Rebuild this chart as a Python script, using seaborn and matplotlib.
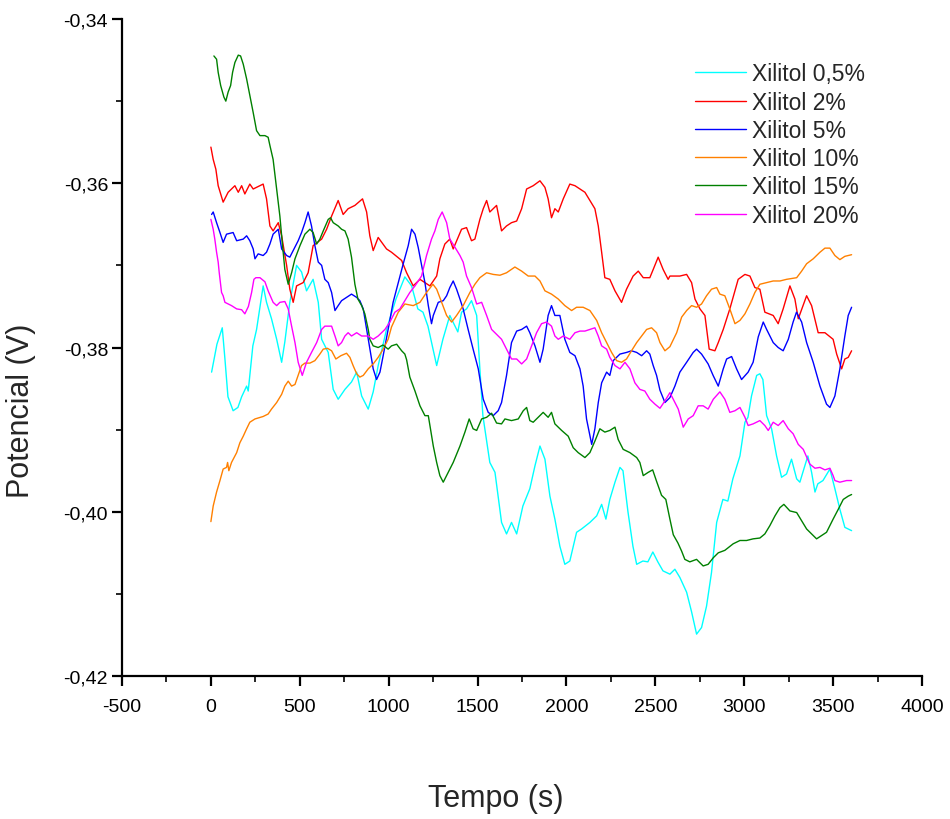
import matplotlib
matplotlib.use("Agg")
import matplotlib.pyplot as plt
from matplotlib.ticker import FuncFormatter, AutoMinorLocator
from matplotlib.lines import Line2D
import seaborn as sns
import pandas as pd

series_names = ["Xilitol 0,5%", "Xilitol 2%", "Xilitol 5%", "Xilitol 10%", "Xilitol 15%", "Xilitol 20%"]
colors = ["#00FFFF", "#FF0000", "#0000FF", "#FF8000", "#008000", "#FF00FF"]

t_05 = [4, 34, 64, 79, 96, 125, 152, 173, 201, 210, 236, 257, 294, 313, 341, 370, 398, 416, 444, 482, 510, 538, 575, 604, 623, 660, 688, 716, 754, 791, 820, 848, 885, 913, 941, 988, 1041, 1091, 1129, 1164, 1193, 1221, 1270, 1305, 1344, 1389, 1410, 1438, 1466, 1495, 1513, 1530, 1569, 1598, 1635, 1663, 1691, 1720, 1755, 1794, 1823, 1851, 1879, 1907, 1935, 1963, 1991, 2019, 2057, 2085, 2132, 2170, 2198, 2222, 2244, 2273, 2301, 2318, 2346, 2374, 2395, 2430, 2458, 2486, 2514, 2543, 2582, 2610, 2638, 2676, 2704, 2732, 2760, 2788, 2816, 2845, 2880, 2908, 2936, 2976, 3004, 3021, 3041, 3070, 3088, 3105, 3126, 3154, 3182, 3210, 3238, 3266, 3295, 3313, 3341, 3358, 3379, 3398, 3414, 3443, 3482, 3510, 3538, 3566, 3604]
v_05 = [-0.3830, -0.3796, -0.3776, -0.3814, -0.3860, -0.3877, -0.3873, -0.3860, -0.3847, -0.3853, -0.3798, -0.3778, -0.3725, -0.3745, -0.3765, -0.3790, -0.3818, -0.3793, -0.3745, -0.3700, -0.3708, -0.3731, -0.3717, -0.3745, -0.3790, -0.3806, -0.3851, -0.3863, -0.3851, -0.3842, -0.3830, -0.3859, -0.3875, -0.3854, -0.3822, -0.3778, -0.3741, -0.3714, -0.3725, -0.3753, -0.3757, -0.3774, -0.3822, -0.3790, -0.3761, -0.3781, -0.3757, -0.3753, -0.3743, -0.3761, -0.3826, -0.3883, -0.3940, -0.3952, -0.4013, -0.4027, -0.4013, -0.4027, -0.3993, -0.3972, -0.3944, -0.3920, -0.3936, -0.3981, -0.4009, -0.4042, -0.4064, -0.4060, -0.4025, -0.4021, -0.4013, -0.4005, -0.3991, -0.4009, -0.3985, -0.3964, -0.3946, -0.3950, -0.4000, -0.4042, -0.4064, -0.4060, -0.4061, -0.4049, -0.4061, -0.4072, -0.4076, -0.4070, -0.4080, -0.4098, -0.4122, -0.4149, -0.4141, -0.4115, -0.4074, -0.4013, -0.3985, -0.3987, -0.3960, -0.3932, -0.3891, -0.3885, -0.3859, -0.3834, -0.3832, -0.3839, -0.3883, -0.3899, -0.3932, -0.3958, -0.3954, -0.3936, -0.3960, -0.3964, -0.3944, -0.3932, -0.3952, -0.3976, -0.3966, -0.3962, -0.3948, -0.3972, -0.3997, -0.4019, -0.4023]

t_2 = [0, 13, 28, 41, 69, 97, 135, 154, 173, 191, 219, 238, 294, 313, 332, 350, 379, 398, 426, 444, 463, 482, 519, 547, 575, 623, 651, 679, 716, 744, 772, 810, 853, 876, 894, 913, 941, 988, 1016, 1073, 1101, 1138, 1176, 1232, 1270, 1288, 1316, 1344, 1363, 1410, 1438, 1466, 1485, 1513, 1532, 1551, 1569, 1607, 1635, 1663, 1691, 1720, 1748, 1776, 1813, 1851, 1879, 1897, 1916, 1935, 1954, 1982, 2019, 2048, 2076, 2104, 2132, 2160, 2179, 2198, 2216, 2244, 2273, 2310, 2338, 2375, 2404, 2432, 2469, 2488, 2516, 2544, 2572, 2582, 2638, 2676, 2704, 2723, 2751, 2779, 2803, 2835, 2854, 2882, 2919, 2966, 3004, 3032, 3060, 3088, 3116, 3163, 3191, 3219, 3257, 3285, 3304, 3351, 3379, 3416, 3454, 3500, 3520, 3548, 3566, 3585, 3604]
v_2 = [-0.3556, -0.3571, -0.3583, -0.3603, -0.3623, -0.3611, -0.3603, -0.3611, -0.3603, -0.3613, -0.3601, -0.3607, -0.3601, -0.3619, -0.3652, -0.3658, -0.3648, -0.3664, -0.3700, -0.3729, -0.3745, -0.3725, -0.3721, -0.3709, -0.3676, -0.3668, -0.3656, -0.3640, -0.3621, -0.3638, -0.3631, -0.3627, -0.3619, -0.3635, -0.3664, -0.3682, -0.3666, -0.3680, -0.3684, -0.3694, -0.3709, -0.3725, -0.3717, -0.3725, -0.3713, -0.3692, -0.3674, -0.3668, -0.3680, -0.3656, -0.3654, -0.3670, -0.3668, -0.3644, -0.3631, -0.3621, -0.3635, -0.3627, -0.3658, -0.3652, -0.3648, -0.3646, -0.3631, -0.3607, -0.3603, -0.3597, -0.3605, -0.3619, -0.3642, -0.3631, -0.3635, -0.3619, -0.3601, -0.3603, -0.3607, -0.3611, -0.3621, -0.3631, -0.3652, -0.3684, -0.3715, -0.3717, -0.3731, -0.3745, -0.3729, -0.3713, -0.3707, -0.3715, -0.3715, -0.3705, -0.3690, -0.3705, -0.3717, -0.3713, -0.3713, -0.3711, -0.3721, -0.3741, -0.3753, -0.3761, -0.3802, -0.3804, -0.3794, -0.3778, -0.3753, -0.3717, -0.3711, -0.3713, -0.3727, -0.3729, -0.3757, -0.3761, -0.3771, -0.3753, -0.3725, -0.3741, -0.3765, -0.3737, -0.3749, -0.3782, -0.3782, -0.3790, -0.3808, -0.3826, -0.3814, -0.3812, -0.3804]

t_5 = [4, 13, 32, 51, 69, 88, 125, 145, 182, 201, 219, 238, 248, 266, 294, 313, 332, 350, 379, 398, 426, 444, 463, 491, 510, 529, 547, 566, 585, 604, 623, 641, 660, 679, 698, 716, 735, 763, 791, 820, 838, 857, 876, 894, 913, 932, 951, 969, 997, 1025, 1054, 1082, 1110, 1129, 1148, 1166, 1204, 1223, 1241, 1251, 1279, 1307, 1326, 1344, 1363, 1382, 1401, 1419, 1447, 1475, 1504, 1532, 1560, 1588, 1616, 1635, 1663, 1691, 1720, 1748, 1776, 1794, 1823, 1851, 1869, 1897, 1916, 1935, 1963, 1991, 2019, 2048, 2076, 2094, 2113, 2142, 2160, 2179, 2198, 2226, 2244, 2263, 2301, 2338, 2366, 2395, 2423, 2451, 2469, 2488, 2507, 2526, 2554, 2582, 2610, 2638, 2676, 2713, 2732, 2760, 2797, 2825, 2854, 2882, 2901, 2929, 2957, 2985, 3022, 3050, 3079, 3107, 3126, 3163, 3191, 3219, 3248, 3275, 3294, 3323, 3351, 3388, 3426, 3463, 3482, 3510, 3538, 3566, 3585, 3604]
v_5 = [-0.3638, -0.3635, -0.3648, -0.3660, -0.3672, -0.3662, -0.3660, -0.3670, -0.3668, -0.3664, -0.3670, -0.3680, -0.3692, -0.3686, -0.3688, -0.3684, -0.3674, -0.3662, -0.3656, -0.3680, -0.3688, -0.3690, -0.3682, -0.3670, -0.3660, -0.3648, -0.3635, -0.3652, -0.3676, -0.3696, -0.3700, -0.3717, -0.3721, -0.3733, -0.3755, -0.3749, -0.3743, -0.3739, -0.3735, -0.3739, -0.3743, -0.3753, -0.3778, -0.3802, -0.3826, -0.3839, -0.3830, -0.3810, -0.3778, -0.3745, -0.3721, -0.3698, -0.3676, -0.3656, -0.3662, -0.3678, -0.3721, -0.3749, -0.3771, -0.3761, -0.3745, -0.3743, -0.3737, -0.3727, -0.3719, -0.3729, -0.3741, -0.3753, -0.3778, -0.3802, -0.3826, -0.3863, -0.3879, -0.3883, -0.3877, -0.3867, -0.3834, -0.3794, -0.3780, -0.3778, -0.3774, -0.3782, -0.3798, -0.3818, -0.3802, -0.3761, -0.3749, -0.3761, -0.3761, -0.3790, -0.3806, -0.3810, -0.3826, -0.3847, -0.3887, -0.3918, -0.3899, -0.3867, -0.3843, -0.3830, -0.3834, -0.3816, -0.3808, -0.3806, -0.3804, -0.3806, -0.3810, -0.3804, -0.3808, -0.3822, -0.3834, -0.3852, -0.3867, -0.3861, -0.3847, -0.3830, -0.3818, -0.3806, -0.3802, -0.3808, -0.3820, -0.3834, -0.3847, -0.3826, -0.3814, -0.3811, -0.3826, -0.3839, -0.3830, -0.3818, -0.3787, -0.3769, -0.3778, -0.3794, -0.3800, -0.3804, -0.3790, -0.3769, -0.3757, -0.3769, -0.3794, -0.3818, -0.3847, -0.3869, -0.3873, -0.3859, -0.3826, -0.3786, -0.3761, -0.3751]

t_10 = [0, 13, 32, 51, 69, 88, 94, 101, 116, 145, 163, 182, 201, 219, 248, 294, 322, 341, 370, 398, 416, 435, 454, 473, 491, 510, 529, 557, 585, 613, 632, 656, 679, 703, 731, 763, 782, 800, 820, 838, 857, 885, 913, 941, 969, 997, 1016, 1054, 1091, 1138, 1176, 1213, 1249, 1270, 1298, 1326, 1354, 1382, 1419, 1457, 1485, 1513, 1551, 1588, 1626, 1663, 1710, 1748, 1785, 1823, 1851, 1879, 1916, 1954, 1991, 2029, 2057, 2094, 2132, 2170, 2198, 2226, 2254, 2282, 2310, 2338, 2366, 2395, 2423, 2451, 2479, 2507, 2526, 2554, 2582, 2620, 2648, 2676, 2704, 2732, 2760, 2788, 2816, 2845, 2863, 2891, 2919, 2948, 2976, 3004, 3032, 3060, 3088, 3126, 3163, 3201, 3238, 3295, 3323, 3351, 3388, 3426, 3454, 3482, 3510, 3538, 3566, 3604]
v_10 = [-0.4012, -0.3993, -0.3976, -0.3962, -0.3948, -0.3946, -0.3940, -0.3950, -0.3940, -0.3928, -0.3916, -0.3908, -0.3899, -0.3891, -0.3887, -0.3884, -0.3881, -0.3875, -0.3867, -0.3857, -0.3847, -0.3841, -0.3847, -0.3845, -0.3834, -0.3822, -0.3819, -0.3819, -0.3816, -0.3808, -0.3802, -0.3801, -0.3804, -0.3814, -0.3810, -0.3807, -0.3812, -0.3822, -0.3832, -0.3836, -0.3834, -0.3826, -0.3820, -0.3812, -0.3802, -0.3790, -0.3775, -0.3757, -0.3747, -0.3749, -0.3745, -0.3733, -0.3723, -0.3729, -0.3745, -0.3761, -0.3769, -0.3761, -0.3749, -0.3733, -0.3723, -0.3715, -0.3709, -0.3711, -0.3712, -0.3709, -0.3702, -0.3707, -0.3713, -0.3713, -0.3719, -0.3731, -0.3735, -0.3741, -0.3749, -0.3755, -0.3751, -0.3751, -0.3755, -0.3767, -0.3782, -0.3794, -0.3806, -0.3816, -0.3818, -0.3814, -0.3804, -0.3794, -0.3786, -0.3778, -0.3776, -0.3782, -0.3794, -0.3804, -0.3799, -0.3782, -0.3763, -0.3755, -0.3749, -0.3751, -0.3747, -0.3737, -0.3729, -0.3727, -0.3735, -0.3737, -0.3753, -0.3771, -0.3767, -0.3759, -0.3747, -0.3733, -0.3723, -0.3721, -0.3719, -0.3719, -0.3717, -0.3715, -0.3707, -0.3698, -0.3692, -0.3684, -0.3679, -0.3679, -0.3688, -0.3693, -0.3689, -0.3687]

t_15 = [17, 32, 41, 55, 73, 84, 97, 111, 122, 135, 154, 167, 182, 201, 219, 238, 257, 276, 304, 322, 332, 350, 370, 388, 403, 416, 435, 454, 473, 501, 529, 557, 575, 595, 613, 632, 660, 673, 688, 716, 735, 754, 772, 791, 810, 827, 848, 866, 885, 894, 913, 941, 968, 997, 1016, 1045, 1073, 1091, 1101, 1119, 1148, 1176, 1204, 1223, 1232, 1251, 1270, 1288, 1307, 1335, 1363, 1401, 1429, 1453, 1475, 1495, 1523, 1551, 1579, 1607, 1635, 1654, 1691, 1729, 1757, 1776, 1794, 1813, 1841, 1869, 1897, 1916, 1935, 1973, 2010, 2038, 2066, 2104, 2132, 2160, 2188, 2216, 2244, 2273, 2291, 2319, 2357, 2395, 2413, 2432, 2460, 2485, 2507, 2535, 2559, 2582, 2601, 2627, 2648, 2666, 2694, 2732, 2769, 2797, 2826, 2854, 2891, 2938, 2976, 3013, 3050, 3088, 3116, 3144, 3173, 3201, 3223, 3257, 3295, 3323, 3351, 3379, 3407, 3435, 3463, 3500, 3529, 3557, 3585, 3604]
v_15 = [-0.3445, -0.3449, -0.3465, -0.3481, -0.3495, -0.3500, -0.3489, -0.3481, -0.3465, -0.3453, -0.3444, -0.3445, -0.3455, -0.3473, -0.3493, -0.3514, -0.3536, -0.3542, -0.3542, -0.3544, -0.3554, -0.3571, -0.3607, -0.3640, -0.3676, -0.3705, -0.3723, -0.3709, -0.3692, -0.3676, -0.3662, -0.3656, -0.3660, -0.3674, -0.3668, -0.3658, -0.3644, -0.3642, -0.3648, -0.3652, -0.3656, -0.3658, -0.3668, -0.3690, -0.3723, -0.3741, -0.3749, -0.3759, -0.3778, -0.3790, -0.3798, -0.3800, -0.3797, -0.3802, -0.3798, -0.3796, -0.3804, -0.3808, -0.3815, -0.3836, -0.3853, -0.3871, -0.3883, -0.3883, -0.3895, -0.3920, -0.3940, -0.3956, -0.3964, -0.3952, -0.3940, -0.3920, -0.3903, -0.3887, -0.3899, -0.3901, -0.3887, -0.3885, -0.3880, -0.3892, -0.3893, -0.3887, -0.3889, -0.3887, -0.3877, -0.3873, -0.3889, -0.3891, -0.3885, -0.3879, -0.3885, -0.3879, -0.3893, -0.3901, -0.3908, -0.3922, -0.3928, -0.3934, -0.3928, -0.3914, -0.3899, -0.3903, -0.3901, -0.3897, -0.3912, -0.3924, -0.3928, -0.3934, -0.3940, -0.3956, -0.3952, -0.3949, -0.3963, -0.3980, -0.3985, -0.4009, -0.4028, -0.4038, -0.4048, -0.4058, -0.4061, -0.4058, -0.4066, -0.4064, -0.4056, -0.4050, -0.4047, -0.4039, -0.4035, -0.4035, -0.4033, -0.4032, -0.4027, -0.4017, -0.4005, -0.3995, -0.3991, -0.3999, -0.4001, -0.4011, -0.4021, -0.4027, -0.4033, -0.4029, -0.4025, -0.4009, -0.3997, -0.3985, -0.3981, -0.3979]

t_20 = [0, 13, 22, 32, 41, 47, 60, 69, 79, 97, 116, 145, 173, 191, 211, 229, 242, 253, 276, 304, 322, 350, 370, 388, 416, 435, 454, 473, 491, 514, 538, 566, 595, 623, 641, 679, 698, 716, 735, 754, 772, 791, 820, 848, 885, 913, 941, 979, 1007, 1035, 1063, 1091, 1119, 1148, 1185, 1213, 1241, 1260, 1279, 1301, 1326, 1344, 1373, 1401, 1419, 1438, 1466, 1495, 1523, 1551, 1579, 1607, 1635, 1663, 1691, 1720, 1748, 1776, 1804, 1832, 1860, 1888, 1916, 1935, 1954, 1982, 2019, 2048, 2076, 2104, 2132, 2160, 2179, 2198, 2226, 2244, 2273, 2301, 2329, 2357, 2385, 2413, 2441, 2469, 2498, 2526, 2554, 2582, 2629, 2657, 2685, 2713, 2741, 2769, 2797, 2826, 2863, 2891, 2919, 2948, 2976, 3004, 3022, 3050, 3088, 3116, 3135, 3163, 3191, 3219, 3248, 3275, 3304, 3332, 3369, 3398, 3426, 3454, 3482, 3500, 3510, 3538, 3576, 3604]
v_20 = [-0.3644, -0.3656, -0.3668, -0.3684, -0.3696, -0.3709, -0.3733, -0.3737, -0.3745, -0.3747, -0.3749, -0.3753, -0.3754, -0.3759, -0.3750, -0.3733, -0.3717, -0.3715, -0.3715, -0.3720, -0.3731, -0.3745, -0.3749, -0.3745, -0.3744, -0.3753, -0.3774, -0.3794, -0.3818, -0.3834, -0.3818, -0.3806, -0.3794, -0.3778, -0.3774, -0.3774, -0.3786, -0.3798, -0.3794, -0.3786, -0.3782, -0.3786, -0.3782, -0.3786, -0.3786, -0.3790, -0.3786, -0.3778, -0.3769, -0.3757, -0.3753, -0.3743, -0.3733, -0.3725, -0.3713, -0.3688, -0.3668, -0.3658, -0.3644, -0.3635, -0.3648, -0.3668, -0.3678, -0.3688, -0.3696, -0.3713, -0.3727, -0.3747, -0.3745, -0.3761, -0.3778, -0.3784, -0.3790, -0.3802, -0.3814, -0.3814, -0.3820, -0.3814, -0.3798, -0.3782, -0.3771, -0.3769, -0.3774, -0.3786, -0.3790, -0.3786, -0.3790, -0.3782, -0.3780, -0.3780, -0.3778, -0.3776, -0.3786, -0.3798, -0.3802, -0.3812, -0.3822, -0.3826, -0.3818, -0.3826, -0.3843, -0.3851, -0.3853, -0.3863, -0.3869, -0.3874, -0.3865, -0.3855, -0.3875, -0.3897, -0.3887, -0.3883, -0.3871, -0.3871, -0.3875, -0.3863, -0.3854, -0.3863, -0.3879, -0.3877, -0.3873, -0.3885, -0.3895, -0.3893, -0.3889, -0.3895, -0.3901, -0.3891, -0.3895, -0.3889, -0.3899, -0.3905, -0.3918, -0.3924, -0.3942, -0.3947, -0.3946, -0.3949, -0.3947, -0.3956, -0.3962, -0.3964, -0.3962, -0.3962]

x_ticks = [-500, 0, 500, 1000, 1500, 2000, 2500, 3000, 3500, 4000]
y_ticks = [-0.42, -0.40, -0.38, -0.36, -0.34]

all_t = [t_05, t_2, t_5, t_10, t_15, t_20]
all_v = [v_05, v_2, v_5, v_10, v_15, v_20]
frames = []
for name, tt, vv in zip(series_names, all_t, all_v):
    frames.append(pd.DataFrame({"Tempo (s)": tt, "Potencial (V)": vv, "Série": name}))
df = pd.concat(frames, ignore_index=True)

sns.set_style("ticks")
plt.rcParams["font.family"] = ["Liberation Sans", "DejaVu Sans"]

fig = plt.figure(figsize=(9.5, 8.2), dpi=100)
ax = fig.add_axes([122 / 950, 1 - 677 / 820, 800 / 950, 657 / 820])

sns.lineplot(data=df, x="Tempo (s)", y="Potencial (V)", hue="Série",
             hue_order=series_names, palette=colors, estimator=None,
             sort=False, linewidth=1.0, ax=ax, legend=False)

ax.set_xlim(-500, 4000)
ax.set_ylim(-0.42, -0.34)
ax.set_xticks(x_ticks)
ax.set_yticks(y_ticks)
ax.xaxis.set_minor_locator(AutoMinorLocator(2))
ax.yaxis.set_minor_locator(AutoMinorLocator(2))
ax.yaxis.set_major_formatter(FuncFormatter(lambda v, p: f"{v:.2f}".replace(".", ",")))
ax.xaxis.set_major_formatter(FuncFormatter(lambda v, p: f"{int(round(v))}"))

for s in ["top", "right"]:
    ax.spines[s].set_visible(False)
for s in ["left", "bottom"]:
    ax.spines[s].set_linewidth(1.6)
    ax.spines[s].set_color("black")

ax.tick_params(axis="both", which="major", direction="out", length=7, width=1.6,
               labelsize=14, colors="black")
ax.tick_params(axis="x", which="major", pad=9)
ax.tick_params(axis="y", which="major", pad=3)
ax.tick_params(axis="both", which="minor", direction="out", length=4, width=1.4)

ax.set_xlabel("Tempo (s)", fontsize=22)
ax.set_ylabel("Potencial (V)", fontsize=22)
ax.xaxis.set_label_coords(0.467, -0.163)
ax.yaxis.set_label_coords(-0.108, 0.405)

handles = [Line2D([0], [0], color=c, lw=1.0) for c in colors]
ax.legend(handles, series_names, loc="upper left", bbox_to_anchor=(0.705, 0.948),
          frameon=False, fontsize=16.5, handlelength=2.2, handletextpad=0.3,
          labelspacing=0.23, borderaxespad=0)

fig.savefig("out.png", dpi=100)
